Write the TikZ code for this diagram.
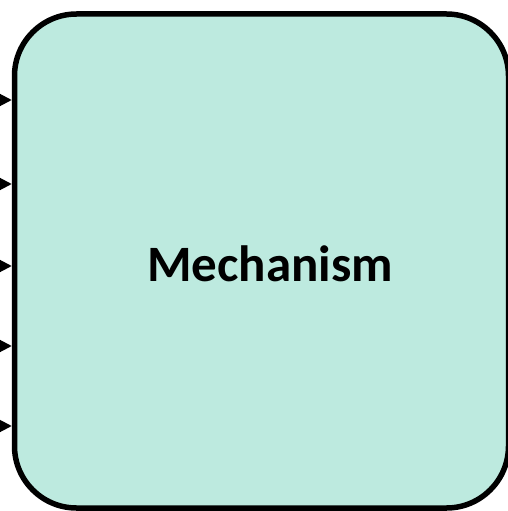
\documentclass[tikz,border=0pt]{standalone}
\usepackage{fontspec}
\setmainfont{Carlito}
\usetikzlibrary{positioning,arrows.meta}
\definecolor{mechfill}{RGB}{189,234,223}
\begin{document}
\begin{tikzpicture}[x=1pt,y=-1pt,
    mechbox/.style={
            draw,
            line width=5.5pt,
            fill=mechfill,
            rounded corners=62pt,
            minimum width=494pt,
            minimum height=494pt},
    inarrow/.style={-{Triangle[length=12pt,width=12pt]},line width=2pt}]
\useasboundingbox (0,0) rectangle (508,511);

%Mechanism====================================================================
\node[mechbox] (mech) at (261.5,261) {};
\node[font=\bfseries\fontsize{51}{61}\selectfont] (mechlabel) at (270,264) {Mechanism};

%inputs====================================================================
\foreach \y [count=\i] in {100,184,266,346,426}{
    \coordinate (in\i) at (0,\y);
    \draw[inarrow] (in\i)--(mech.west |- in\i);
}
%=======================================================================
\end{tikzpicture}
\end{document}
